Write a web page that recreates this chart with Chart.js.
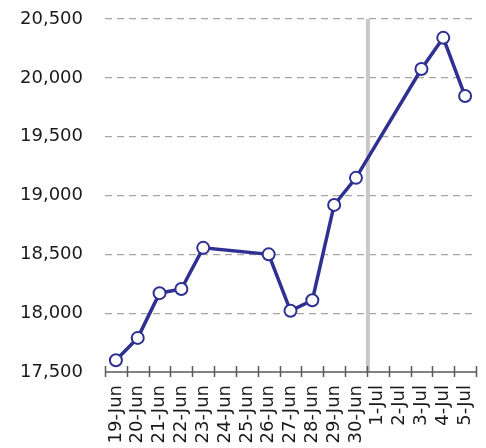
<!DOCTYPE html>
<html>
<head>
<meta charset="utf-8">
<script src="https://cdn.jsdelivr.net/npm/chart.js@4"></script>
<style>
    html, body { margin: 0; padding: 0; background: #fff; }
    #wrap { width: 486px; height: 448px; }
</style>
</head>
<body>
<div id="wrap"><canvas id="chart"></canvas></div>
<script>
const days = ["19-Jun", "20-Jun", "21-Jun", "22-Jun", "23-Jun", "24-Jun", "25-Jun", "26-Jun", "27-Jun",
    "28-Jun", "29-Jun", "30-Jun", "1-Jul", "2-Jul", "3-Jul", "4-Jul", "5-Jul"];
const values = [17600, 17790, 18170, 18205, 18555, null, null, 18500, 18020,
    18110, 18920, 19150, null, null, 20075, 20340, 19845];
const yTicks = [17500, 18000, 18500, 19000, 19500, 20000, 20500];
// marker sits between these two categories
const markerBetween = ["30-Jun", "1-Jul"];

const COLORS = {
    line: "#2E3192",
    grid: "#A6A6A6",
    axis: "#595959",
    marker: "#C8C8C8",
    text: "#1A1A1A",
};
const FONT = "'DejaVu Sans', sans-serif";

// gray vertical line + crossing tick marks on the x axis
const extras = {
    id: "extras",
    beforeDatasetsDraw(chart) {
        const { ctx, chartArea, scales } = chart;
        const x = scales.x;
        const i0 = days.indexOf(markerBetween[0]);
        const i1 = days.indexOf(markerBetween[1]);
        const px = (x.getPixelForValue(i0) + x.getPixelForValue(i1)) / 2 + 1;
        ctx.save();
        ctx.strokeStyle = COLORS.marker;
        ctx.lineWidth = 4;
        ctx.beginPath();
        ctx.moveTo(px, chartArea.top);
        ctx.lineTo(px, chartArea.bottom);
        ctx.stroke();
        ctx.restore();
    },
    afterDraw(chart) {
        const { ctx, chartArea, scales } = chart;
        const x = scales.x;
        const step = x.getPixelForValue(1) - x.getPixelForValue(0);
        ctx.save();
        ctx.strokeStyle = COLORS.axis;
        ctx.lineWidth = 1.5;
        ctx.beginPath();
        ctx.moveTo(chartArea.left, chartArea.bottom);
        ctx.lineTo(chartArea.right, chartArea.bottom);
        for (let i = 0; i <= days.length; i++) {
            const p = x.getPixelForValue(0) + (i - 0.5) * step;
            ctx.moveTo(Math.round(p) + 0.5, chartArea.bottom - 6);
            ctx.lineTo(Math.round(p) + 0.5, chartArea.bottom + 5);
        }
        ctx.stroke();
        ctx.restore();
    },
};

new Chart(document.getElementById("chart"), {
    type: "line",
    data: {
        labels: days,
        datasets: [{
            data: values,
            borderColor: COLORS.line,
            borderWidth: 3.5,
            pointRadius: 6,
            pointBorderWidth: 2,
            pointBackgroundColor: "#FFFFFF",
            pointBorderColor: COLORS.line,
            spanGaps: true,
            tension: 0,
        }],
    },
    options: {
        responsive: true,
        maintainAspectRatio: false,
        animation: false,
        layout: { padding: { top: 19, right: 10, left: 0, bottom: 0 } },
        plugins: {
            legend: { display: false },
            tooltip: { enabled: false },
        },
        scales: {
            x: {
                offset: true,
                grid: { display: false, drawTicks: false },
                border: { display: false },
                ticks: {
                    autoSkip: false,
                    maxRotation: 90,
                    minRotation: 90,
                    padding: 13,
                    color: COLORS.text,
                    font: { family: FONT, size: 18 },
                },
                afterFit: s => {
                    s.height = 76;
                    s.paddingLeft = 0;
                    s.paddingRight = 0;
                },
            },
            y: {
                min: 17500,
                max: 20500,
                afterBuildTicks: s => { s.ticks = yTicks.map(v => ({ value: v })); },
                grid: {
                    color: ctx => ctx.tick && ctx.tick.value === 17500 ? "rgba(0,0,0,0)" : COLORS.grid,
                    lineWidth: 1.2,
                    drawTicks: false,
                },
                border: { display: false, dash: [7, 5] },
                ticks: {
                    padding: 22,
                    color: COLORS.text,
                    font: { family: FONT, size: 18 },
                    callback: v => v.toLocaleString("en-US"),
                },
                afterFit: s => {
                    s.width = 105;
                    s.paddingTop = 0;
                    s.paddingBottom = 0;
                },
            },
        },
    },
    plugins: [extras],
});
</script>
</body>
</html>
